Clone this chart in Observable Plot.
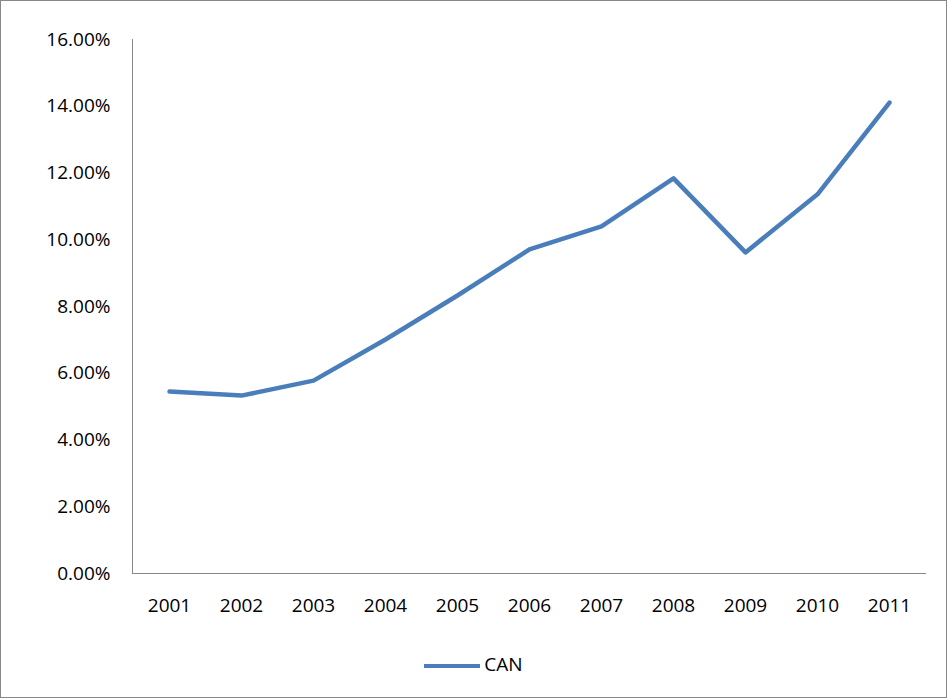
<!DOCTYPE html>
<html><head><meta charset="utf-8">
<script src="https://cdn.jsdelivr.net/npm/d3@7"></script>
<script src="https://cdn.jsdelivr.net/npm/@observablehq/plot@0.6"></script>
<style>
body{margin:0;font-family:"Open Sans",sans-serif;}
#frame{width:945px;height:696px;border:1px solid #888;position:relative;background:#fff;}
#legend{position:absolute;top:650px;left:0;width:945px;text-align:center;font-size:19px;color:#000;}
#legend span.sw{display:inline-block;width:56px;height:4px;background:#4a7ebb;vertical-align:middle;margin-right:4px;}
</style></head><body>
<div id="frame"><div id="chart"></div>
<div id="legend"><span class="sw"></span>CAN</div></div>
<script>
const years = ["2001","2002","2003","2004","2005","2006","2007","2008","2009","2010","2011"];
const can = [0.0545,0.0533,0.0578,0.0701,0.0833,0.0971,0.1040,0.1184,0.0962,0.1136,0.1411];
const data = years.map((y,i)=>({year:y, value:can[i]}));

const chart = Plot.plot({
  width: 945, height: 630,
  marginTop: 38, marginBottom: 58, marginLeft: 131, marginRight: 20,
  style: {fontSize: "19px", fontFamily: "Open Sans, sans-serif", color: "#000"},
  x: {type: "point", domain: years, padding: 0.5, label: null, tickSize: 0, tickPadding: 25},
  y: {domain: [0, 0.16], ticks: d3.range(0, 0.161, 0.02), tickFormat: d => (d*100).toFixed(2) + "%", label: null, tickSize: 0, tickPadding: 22},
  marks: [
    Plot.lineY(data, {x: "year", y: "value", stroke: "#4a7ebb", strokeWidth: 4.5}),
    Plot.ruleY([0], {stroke: "#888"}),
    Plot.frame({anchor: "left", stroke: "#888"})
  ]
});
d3.select('#chart').append(() => chart);
</script></body></html>
